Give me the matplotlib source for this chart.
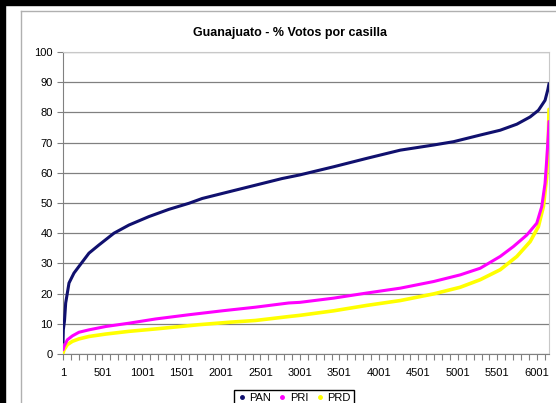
import matplotlib.pyplot as plt
from matplotlib.lines import Line2D
from matplotlib.patches import Rectangle
from matplotlib.ticker import MultipleLocator, FixedLocator

plt.rcParams['font.family'] = ['Liberation Sans', 'DejaVu Sans']

# sorted % of votes per polling station (casilla)
n_casillas = 6155

pan_x = [1, 5, 20, 35, 77, 140, 203, 330, 456, 646, 836, 1089, 1342, 1595, 1764,
         2100, 2438, 2775, 3000, 3428, 3850, 4272, 4694, 4946, 5284, 5537, 5748,
         5916, 6021, 6105, 6140, 6155]
pan_y = [4, 8, 11, 16.9, 23.5, 26.8, 29, 33.4, 36.1, 40, 42.7, 45.5, 47.9, 49.9, 51.5,
         53.7, 55.9, 58.1, 59.3, 62, 64.8, 67.5, 69.2, 70.3, 72.5, 74.1, 76.1,
         78.5, 80.7, 84, 87.5, 89.5]

pri_x = [1, 14, 56, 120, 203, 330, 541, 836, 1173, 1595, 2017, 2438, 2860, 3000,
         3428, 3850, 4272, 4694, 5031, 5284, 5537, 5705, 5874, 6000, 6063, 6105,
         6126, 6147, 6155]
pri_y = [1.4, 2.5, 4.7, 6, 7.2, 8, 9.1, 10.2, 11.6, 13, 14.3, 15.5, 16.9, 17.1,
         18.5, 20.2, 21.8, 24, 26.2, 28.4, 32.3, 35.6, 39.4, 43.3, 48.8, 56.5,
         64.2, 73, 77]

prd_x = [1, 14, 56, 120, 203, 330, 541, 836, 1173, 1721, 2100, 2438, 2860, 3000,
         3428, 3850, 4272, 4694, 5031, 5284, 5537, 5748, 5916, 6021, 6084, 6126,
         6147, 6155]
prd_y = [0.3, 1.4, 3.1, 4.2, 5, 5.8, 6.6, 7.5, 8.3, 9.7, 10.5, 11.1, 12.4, 12.8,
         14.3, 16.1, 17.7, 19.9, 22.1, 24.6, 27.9, 32.3, 37.2, 42.2, 48.8, 58.7,
         71.9, 81]

x_labels = list(range(1, 6002, 500))

fig = plt.figure(figsize=(5.56, 4.03), dpi=100)
ax = fig.add_axes([63 / 556, 1 - 354 / 403, 486 / 556, 302 / 403])

ax.plot(prd_x, prd_y, color='#ffff00', lw=2.6, solid_capstyle='round', zorder=3)
ax.plot(pri_x, pri_y, color='#ff00ff', lw=2.2, solid_capstyle='round', zorder=4)
ax.plot(pan_x, pan_y, color='#10106e', lw=2.2, solid_capstyle='round', zorder=5)

ax.set_xlim(1, n_casillas)
ax.set_ylim(0, 100)
ax.set_yticks(range(0, 101, 10))
ax.xaxis.set_major_locator(FixedLocator(x_labels))
ax.set_xticklabels([str(v) for v in x_labels])
ax.xaxis.set_minor_locator(FixedLocator(range(1, n_casillas, 100)))
ax.grid(axis='y', color='#808080', lw=0.9, zorder=0)
ax.tick_params(axis='both', labelsize=8, colors='#808080', labelcolor='black',
               length=4, width=0.8)
ax.tick_params(axis='x', which='minor', length=4, width=0.8, colors='#808080')
ax.tick_params(axis='x', pad=6)

for side in ['top', 'right']:
    ax.spines[side].set_color('#c8c8c8')
for side in ['left', 'bottom']:
    ax.spines[side].set_color('#808080')

fig.text(290 / 556, 1 - 33 / 403, 'Guanajuato - % Votos por casilla',
         ha='center', va='center', fontsize=9, fontweight='bold')

handles = [Line2D([], [], ls='none', marker='o', ms=2.5, color=c)
           for c in ['#10106e', '#ff00ff', '#ffff00']]
fig.legend(handles, ['PAN', 'PRI', 'PRD'], loc='upper center',
           bbox_to_anchor=(294 / 556, 1 - 384 / 403), ncol=3, fontsize=8,
           frameon=True, fancybox=False, edgecolor='black', handlelength=0.8,
           handletextpad=0.3, columnspacing=0.6, borderpad=0.3, framealpha=1)

# frame around the picture
fig.add_artist(Rectangle((0, 1 - 4.5 / 403), 1, 4.5 / 403, transform=fig.transFigure,
                         color='black'))
fig.add_artist(Rectangle((0, 0), 4.5 / 556, 1, transform=fig.transFigure, color='black'))
fig.add_artist(Line2D([20.5 / 556, 20.5 / 556], [0, 1 - 11 / 403],
                      transform=fig.transFigure, color='#b0b0b0', lw=1))
fig.add_artist(Line2D([20.5 / 556, 1], [1 - 11 / 403, 1 - 11 / 403],
                      transform=fig.transFigure, color='#b0b0b0', lw=1))

fig.savefig('out.png', dpi=100)
